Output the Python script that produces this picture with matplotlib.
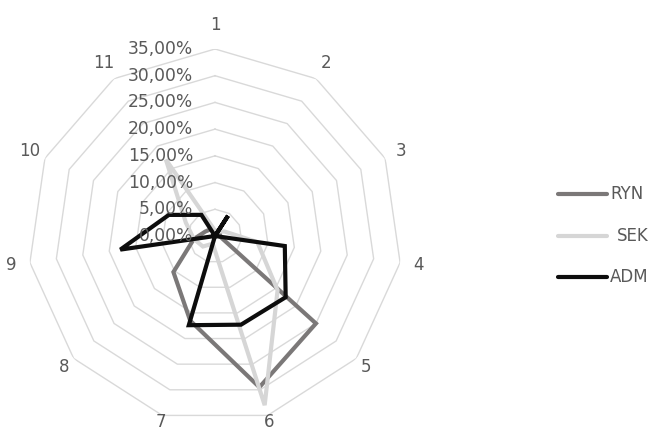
import numpy as np
import matplotlib
matplotlib.use("Agg")
import matplotlib.pyplot as plt
from matplotlib.lines import Line2D
from matplotlib.transforms import ScaledTranslation

# categories around the radar and share (%) of each group per category
categories = ["1", "2", "3", "4", "5", "6", "7", "8", "9", "10", "11"]
ryn = [1.0, 1.0, 1.0, 1.0, 25.0, 29.5, 16.5, 10.3, 4.0, 2.0, 1.5]
sek = [1.0, 1.0, 2.0, 8.0, 15.5, 33.0, 1.5, 3.0, 4.0, 6.0, 17.0]
adm = [0.0, 4.5, 0.0, 13.2, 17.5, 17.3, 17.4, 0.0, 17.9, 9.5, 4.7]
rings = [0, 5, 10, 15, 20, 25, 30, 35]

series = [("RYN", ryn, "#7b7878"), ("SEK", sek, "#d6d6d6"), ("ADM", adm, "#0d0d0d")]
text_color = "#595959"

n = len(categories)
angles = np.linspace(0, 2 * np.pi, n, endpoint=False)
closed = np.append(angles, angles[0])

fig = plt.figure(figsize=(6.58, 4.30), dpi=100)
ax = fig.add_axes([0.04255, 0.01628, 0.5684, 0.8698], polar=True)
ax.set_theta_zero_location("N")
ax.set_theta_direction(-1)
ax.set_ylim(0, rings[-1])
ax.grid(False)
ax.spines["polar"].set_visible(False)
ax.set_xticks([])
ax.set_yticks([])
ax.patch.set_alpha(0)

# polygonal grid rings
for r in rings[1:]:
    ax.plot(closed, [r] * (n + 1), color="#d9d9d9", lw=1.0, zorder=1)

# value labels along the vertical axis, to the left of it
shift = ScaledTranslation(-22 / 100, 0, fig.dpi_scale_trans)
for r in rings:
    ax.text(0, r, f"{r:.2f}".replace(".", ",") + "%", transform=ax.transData + shift,
            ha="right", va="center", fontsize=12.3, color=text_color, zorder=5)

# category labels outside the outer ring (radius in data units)
for a, lab in zip(angles, categories):
    r_lab = 36.0 + 2.5 * np.sin(a) ** 2 + 3.5 * max(np.cos(a), 0) ** 4
    ax.text(a, r_lab, lab, ha="center", va="center", fontsize=12, color=text_color)

for name, vals, col in series:
    ax.plot(closed, list(vals) + [vals[0]], color=col, lw=3.0, solid_joinstyle="miter",
            zorder=3)

# legend on the right
legend_y = [194, 236, 277]
for (name, vals, col), y in zip(series, legend_y):
    yf = 1 - y / 430
    fig.add_artist(Line2D([558 / 658, 607 / 658], [yf, yf], color=col, lw=3.0,
                          solid_capstyle="round", transform=fig.transFigure))
    x0 = 617 if name == "SEK" else 610
    fig.text(x0 / 658, yf, name, ha="left", va="center", fontsize=12, color=text_color)

fig.savefig("out.png", dpi=100)
